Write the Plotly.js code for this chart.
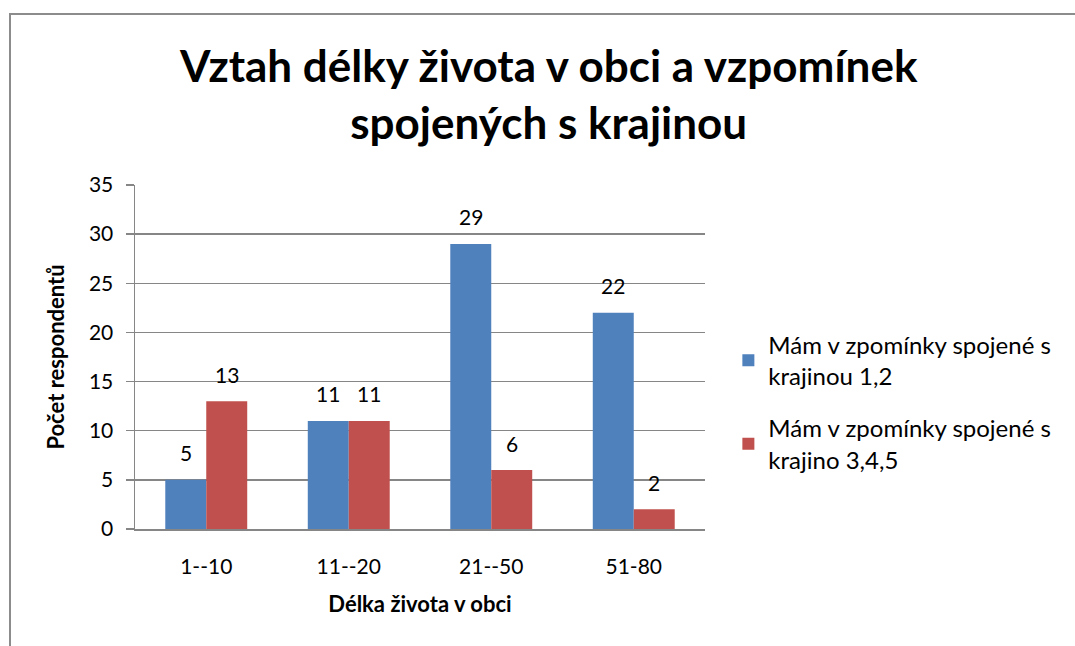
<!DOCTYPE html>
<html>
<head>
<meta charset="utf-8">
<script src="https://cdn.plot.ly/plotly-3.0.1.min.js"></script>
<style>
html,body{margin:0;padding:0;background:#fff;}
#frame{position:absolute;left:9px;top:13px;width:1070px;height:640px;border-top:2px solid #8c8c8c;border-left:2px solid #8c8c8c;}
#chart{position:absolute;left:0;top:0;width:1075px;height:646px;}
</style>
</head>
<body>
<div id="frame"></div>
<div id="chart"></div>
<script>
const categories = ["1--10", "11--20", "21--50", "51-80"];
const seriesNames = ["Mám v zpomínky spojené s<br>krajinou 1,2", "Mám v zpomínky spojené s<br>krajino 3,4,5"];
const series1 = [5, 11, 29, 22];
const series2 = [13, 11, 6, 2];
const yTicks = [0, 5, 10, 15, 20, 25, 30, 35];
const titleText = "<b>Vztah délky života v obci a vzpomínek<br>spojených s krajinou</b>";

const FONT = "Lato, 'Open Sans', sans-serif";
const colors = ["#4F81BD", "#C0504D"];
const allSeries = [series1, series2];

const traces = allSeries.map((vals, i) => ({
  type: "bar",
  name: seriesNames[i],
  legendgroup: "g" + i,
  x: categories,
  y: vals,
  marker: {color: colors[i], line: {width: 0}},
  hoverinfo: "skip"
}));

// data labels above bars (positioned by data values, shifted to their bar in the group)
const annotations = [];
allSeries.forEach((vals, i) => {
  vals.forEach((v, j) => {
    annotations.push({
      x: categories[j], y: v, xref: "x", yref: "y",
      text: String(v), showarrow: false,
      xshift: i === 0 ? -20.5 : 20.5, yshift: 27,
      yanchor: "middle",
      font: {family: FONT, size: 21, color: "#000"}
    });
  });
});
annotations.push({
  xref: "paper", yref: "paper", x: 0.725, y: 1.265,
  xanchor: "center", yanchor: "middle",
  text: titleText, showarrow: false,
  font: {family: FONT, size: 44, color: "#000"}
});

const layout = {
  width: 1075, height: 646,
  paper_bgcolor: "rgba(0,0,0,0)",
  plot_bgcolor: "rgba(0,0,0,0)",
  margin: {l: 135, r: 370, t: 185, b: 117},
  barmode: "group",
  bargap: 0.425,
  bargroupgap: 0,
  font: {family: FONT, color: "#000"},
  annotations: annotations,
  xaxis: {
    type: "category",
    showgrid: false,
    showline: true, linecolor: "#868686", linewidth: 1.5,
    ticks: "", tickfont: {family: FONT, size: 21, color: "#000"},
    ticklabelstandoff: 18,
    title: {text: "<b>Délka života v obci</b>", font: {family: FONT, size: 22, color: "#000"}, standoff: 20}
  },
  yaxis: {
    range: [0, 35],
    tickvals: yTicks,
    showgrid: true, gridcolor: "#868686", gridwidth: 1.5,
    showline: true, linecolor: "#868686", linewidth: 1.5,
    ticks: "outside", ticklen: 8, tickcolor: "#868686", tickwidth: 1.5,
    tickfont: {family: FONT, size: 21, color: "#000"},
    ticklabelstandoff: 8,
    zeroline: false,
    title: {text: "<b>Počet respondentů</b>", font: {family: FONT, size: 22, color: "#000"}, standoff: 18}
  },
  legend: {
    x: 1.041, xanchor: "left",
    y: 0.6, yanchor: "top",
    font: {family: FONT, size: 24, color: "#000"},
    itemwidth: 30,
    tracegroupgap: 18,
    bgcolor: "rgba(0,0,0,0)"
  },
  showlegend: true
};

Plotly.newPlot("chart", traces, layout, {displayModeBar: false, staticPlot: true});
</script>
</body>
</html>
